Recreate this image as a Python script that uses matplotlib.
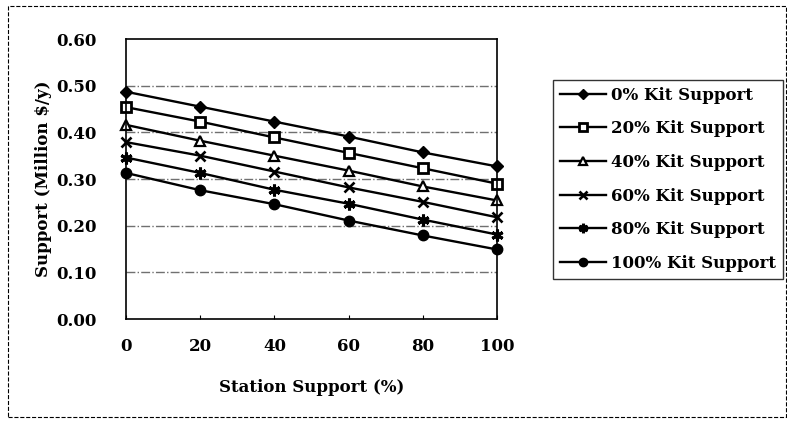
import matplotlib
matplotlib.use("Agg")
import matplotlib.pyplot as plt
from matplotlib.patches import Rectangle

station = [0, 20, 40, 60, 80, 100]
kit_0 = [0.487, 0.455, 0.423, 0.391, 0.357, 0.327]
kit_20 = [0.454, 0.423, 0.389, 0.356, 0.323, 0.290]
kit_40 = [0.416, 0.382, 0.350, 0.318, 0.284, 0.254]
kit_60 = [0.379, 0.350, 0.316, 0.282, 0.251, 0.218]
kit_80 = [0.346, 0.313, 0.277, 0.247, 0.213, 0.181]
kit_100 = [0.313, 0.276, 0.246, 0.211, 0.179, 0.149]
labels = ["0% Kit Support", "20% Kit Support", "40% Kit Support",
          "60% Kit Support", "80% Kit Support", "100% Kit Support"]
yticks = [0.0, 0.1, 0.2, 0.3, 0.4, 0.5, 0.6]
xticks = [0, 20, 40, 60, 80, 100]

plt.rcParams['font.family'] = ['DejaVu Serif']
plt.rcParams['font.weight'] = 'bold'

fig = plt.figure(figsize=(7.87, 4.22), dpi=100)
fig.patch.set_facecolor('white')
ax = fig.add_axes([126/787, 1-319/422, (497-126)/787, (319-39)/422])

series = [kit_0, kit_20, kit_40, kit_60, kit_80, kit_100]
styles = [
    dict(marker='D', mfc='black', ms=6.5),
    dict(marker='s', mfc='white', ms=6.5, mew=2),
    dict(marker='^', mfc='white', ms=7, mew=1.6),
    dict(marker='x', mfc='black', ms=7.5, mew=1.9),
    dict(marker=(6, 2, 0), mfc='black', ms=8.5, mew=2.2),
    dict(marker='o', mfc='black', ms=7.5),
]
for s, st, lab in zip(series, styles, labels):
    ax.plot(station, s, color='black', lw=1.7, mec='black', label=lab,
            clip_on=False, **st)

ax.set_xlim(0, 100)
ax.set_ylim(0, 0.6)
ax.set_xticks(xticks)
ax.set_yticks(yticks)
ax.set_xticklabels([str(v) for v in xticks])
ax.set_yticklabels([f"{v:.2f}" for v in yticks])
ax.tick_params(axis='x', direction='in', length=3, pad=14, labelsize=12)
ax.tick_params(axis='y', length=0, pad=21, labelsize=12)
for t in ax.get_xticklabels() + ax.get_yticklabels():
    t.set_fontweight('bold')
ax.set_xlabel("Station Support (%)", fontsize=12, fontweight='bold', labelpad=17)
ax.set_ylabel("Support (Million $/y)", fontsize=12, fontweight='bold', labelpad=3)

for y in yticks[1:-1]:
    ax.axhline(y, color='#707070', lw=1.0, ls='-.', zorder=0)
for sp in ax.spines.values():
    sp.set_linewidth(1.2)
    sp.set_color('black')

leg = fig.legend(loc='upper left', bbox_to_anchor=(553/787, 1-80/422),
                 bbox_transform=fig.transFigure, frameon=True, fancybox=False,
                 edgecolor='black', fontsize=12, handlelength=2.8,
                 labelspacing=1.0, borderpad=0.4, handletextpad=0.3,
                 borderaxespad=0, markerscale=0.8)
leg.get_frame().set_linewidth(1.0)
for t in leg.get_texts():
    t.set_fontweight('bold')

fig.patches.append(Rectangle((8/787, 1-417/422), (786-8)/787, (417-6)/422,
                             transform=fig.transFigure, fill=False,
                             edgecolor='black', lw=0.8, ls='--'))

fig.savefig("out.png", dpi=100, facecolor='white')
